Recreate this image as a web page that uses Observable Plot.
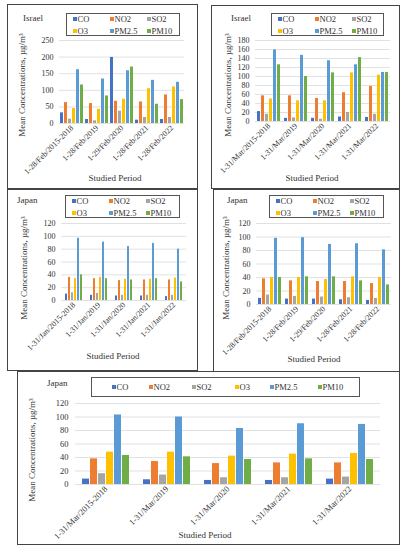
<!DOCTYPE html>
<html><head><meta charset="utf-8">
<script src="https://cdn.jsdelivr.net/npm/d3@7"></script>
<script src="https://cdn.jsdelivr.net/npm/@observablehq/plot@0.6"></script>
<style>
body{margin:0;background:#fff;}
#root{position:relative;width:408px;height:550px;overflow:hidden;font-family:"Liberation Serif","Times New Roman",serif;color:#333;}
.panel{position:absolute;border:1px solid #444;box-sizing:border-box;}
.t{position:absolute;white-space:nowrap;line-height:1;}
.lg{position:absolute;border:1px solid #555;box-sizing:border-box;}
.mk{position:absolute;width:3.5px;height:3.5px;}
svg{position:absolute;overflow:visible;}
</style>
</head><body><div id="root"></div>
<script>
const pollutants = ["CO","NO2","SO2","O3","PM2.5","PM10"];
const colors = ["#4472C4","#ED7D31","#A5A5A5","#FFC000","#5B9BD5","#70AD47"];

// Israel, February
const israelFebPeriods = ["1-28/Feb/2015-2018","1-28/Feb/2019","1-29/Feb/2020","1-28/Feb/2021","1-28/Feb/2022"];
const israelFebValues = [
  [32,12,199,10,12],      // CO
  [63,60,67,65,86],       // NO2
  [13,8,37,18,18],        // SO2
  [45,43,73,105,110],     // O3
  [162,134,159,130,124],  // PM2.5
  [116,83,170,58,72]      // PM10
];
const israelFebTicks = [0,50,100,150,200,250];

// Israel, March
const israelMarPeriods = ["1-31/Mar/2015-2018","1-31/Mar/2019","1-31/Mar/2020","1-31/Mar/2021","1-31/Mar/2022"];
const israelMarValues = [
  [22,7,7,10,9],
  [57,57,51,64,78],
  [16,8,5,20,16],
  [50,46,46,108,103],
  [159,147,135,126,109],
  [126,100,108,142,109]
];
const israelMarTicks = [0,20,40,60,80,100,120,140,160,180];

// Japan, January
const japanJanPeriods = ["1-31/Jan/2015-2018","1-31/Jan/2019","1-31/Jan/2020","1-31/Jan/2021","1-31/Jan/2022"];
const japanJanValues = [
  [10,8,7,7,6],
  [36,34,31,32,32],
  [12,11,8,8,8],
  [34,36,33,33,35],
  [97,91,84,89,80],
  [40,34,32,34,29]
];
// Japan, February
const japanFebPeriods = ["1-28/Feb/2015-2018","1-28/Feb/2019","1-29/Feb/2020","1-28/Feb/2021","1-28/Feb/2022"];
const japanFebValues = [
  [9,8,8,7,6],
  [38,35,34,34,31],
  [14,12,11,10,9],
  [40,40,37,41,40],
  [98,99,89,90,81],
  [40,41,41,35,29]
];
// Japan, March
const japanMarPeriods = ["1-31/Mar/2015-2018","1-31/Mar/2019","1-31/Mar/2020","1-31/Mar/2021","1-31/Mar/2022"];
const japanMarValues = [
  [8,7,6,6,8],
  [38,34,31,32,32],
  [16,14,10,10,11],
  [48,48,42,45,46],
  [103,100,83,90,89],
  [43,41,37,38,37]
];
const japanTicks = [0,20,40,60,80,100,120];

const yTitle = "Mean Concentrations, µg/m³";
const xTitle = "Studied Period";

const root = document.getElementById("root");

function addText(txt, x, y, opts = {}) {
  const d = document.createElement("div");
  d.className = "t";
  d.textContent = txt;
  d.style.left = x + "px";
  d.style.top = y + "px";
  d.style.fontSize = (opts.size || 9) + "px";
  const tx = opts.anchor === "start" ? "0" : "-50%";
  d.style.transform = `translate(${tx},-50%)` + (opts.rotate ? ` rotate(${opts.rotate}deg)` : "");
  root.appendChild(d);
  return d;
}

function drawPanel(p) {
  const box = document.createElement("div");
  box.className = "panel";
  Object.assign(box.style, {left: p.box.l + "px", top: p.box.t + "px", width: p.box.w + "px", height: p.box.h + "px"});
  root.appendChild(box);

  const rows = [];
  p.periods.forEach((per, i) => pollutants.forEach((pol, j) => rows.push({period: per, pollutant: pol, value: p.values[j][i]})));

  const W = p.box.w, H = p.box.h;
  const chart = Plot.plot({
    width: W, height: H,
    marginLeft: p.plot.l - p.box.l,
    marginRight: (p.box.l + W) - p.plot.r,
    marginTop: p.plot.t - p.box.t,
    marginBottom: (p.box.t + H) - p.plot.b,
    style: {fontFamily: '"Liberation Serif","Times New Roman",serif', fontSize: p.font + "px", color: "#333", background: "transparent"},
    fx: {domain: p.periods, padding: 0, axis: null},
    x: {domain: pollutants, axis: null, paddingInner: p.pi, paddingOuter: p.po},
    y: {domain: [0, p.ticks[p.ticks.length - 1]], axis: null},
    color: {domain: pollutants, range: colors},
    marks: [
      Plot.gridY(p.ticks, {stroke: "#d9d9d9", strokeOpacity: 1, strokeWidth: 0.8}),
      Plot.axisY(p.ticks, {tickSize: 0, tickPadding: p.tp, label: null}),
      Plot.axisFx({anchor: "bottom", tickRotate: -45, tickSize: 0, tickPadding: 3, label: null}),
      Plot.barY(rows, {fx: "period", x: "pollutant", y: "value", fill: "pollutant"})
    ]
  });
  chart.style.left = p.box.l + "px";
  chart.style.top = p.box.t + "px";
  root.appendChild(chart);

  addText(p.title, p.titlePos[0], p.titlePos[1], {anchor: "start", size: 9});
  addText(yTitle, p.yt[0], p.yt[1], {rotate: -90, size: 9});
  addText(xTitle, p.xt[0], p.xt[1], {size: 9});

  const lg = document.createElement("div");
  lg.className = "lg";
  Object.assign(lg.style, {left: p.lg.l + "px", top: p.lg.t + "px", width: p.lg.w + "px", height: p.lg.h + "px"});
  root.appendChild(lg);
  pollutants.forEach((pol, j) => {
    const [ox, oy] = p.lgItems[j];
    const m = document.createElement("div");
    m.className = "mk";
    m.style.background = colors[j];
    m.style.left = (p.lg.l + ox) + "px";
    m.style.top = (p.lg.t + oy - 1.75) + "px";
    root.appendChild(m);
    addText(pol, p.lg.l + ox + 4.5, p.lg.t + oy, {anchor: "start", size: 8.5});
  });
}

const twoRow = [[7,6],[44,6],[81,6],[7,18],[44,18],[81,18]];

drawPanel({
  title: "Israel", periods: israelFebPeriods, values: israelFebValues, ticks: israelFebTicks,
  box: {l: 7, t: 4, w: 191, h: 185}, plot: {l: 59, r: 184, t: 40, b: 123},
  titlePos: [23, 18], yt: [22, 85], xt: [115, 178],
  lg: {l: 66, t: 13, w: 114, h: 23}, lgItems: twoRow, font: 8, tp: 6, pi: 0.35, po: 0.3
});
drawPanel({
  title: "Israel", periods: israelMarPeriods, values: israelMarValues, ticks: israelMarTicks,
  box: {l: 211, t: 5, w: 189, h: 184}, plot: {l: 255, r: 390, t: 40, b: 121},
  titlePos: [231, 18], yt: [228, 85], xt: [312, 178],
  lg: {l: 271, t: 13, w: 113, h: 23}, lgItems: twoRow, font: 8, tp: 6, pi: 0.35, po: 0.4
});
drawPanel({
  title: "Japan", periods: japanJanPeriods, values: japanJanValues, ticks: japanTicks,
  box: {l: 7, t: 189, w: 191, h: 182}, plot: {l: 59, r: 187, t: 223, b: 300},
  titlePos: [17, 200], yt: [24, 268], xt: [113, 356],
  lg: {l: 65, t: 195, w: 115, h: 23}, lgItems: twoRow, font: 8, tp: 6, pi: 0.35, po: 0.35
});
drawPanel({
  title: "Japan", periods: japanFebPeriods, values: japanFebValues, ticks: japanTicks,
  box: {l: 213, t: 189, w: 187, h: 183}, plot: {l: 255, r: 391, t: 223, b: 304},
  titlePos: [227, 200], yt: [226, 268], xt: [314, 359],
  lg: {l: 269, t: 195, w: 115, h: 23}, lgItems: twoRow, font: 8, tp: 6, pi: 0.35, po: 0.4
});
drawPanel({
  title: "Japan", periods: japanMarPeriods, values: japanMarValues, ticks: japanTicks,
  box: {l: 17, t: 371, w: 383, h: 174}, plot: {l: 73, r: 382, t: 403, b: 484},
  titlePos: [47, 383], yt: [32, 450], xt: [205, 535],
  lg: {l: 91, t: 377, w: 269, h: 20},
  lgItems: [[21,10],[58,10],[101,10],[144,10],[179,10],[227,10]],
  font: 8.5, tp: 7, pi: 0.15, po: 0.85
});
</script>
</body></html>
